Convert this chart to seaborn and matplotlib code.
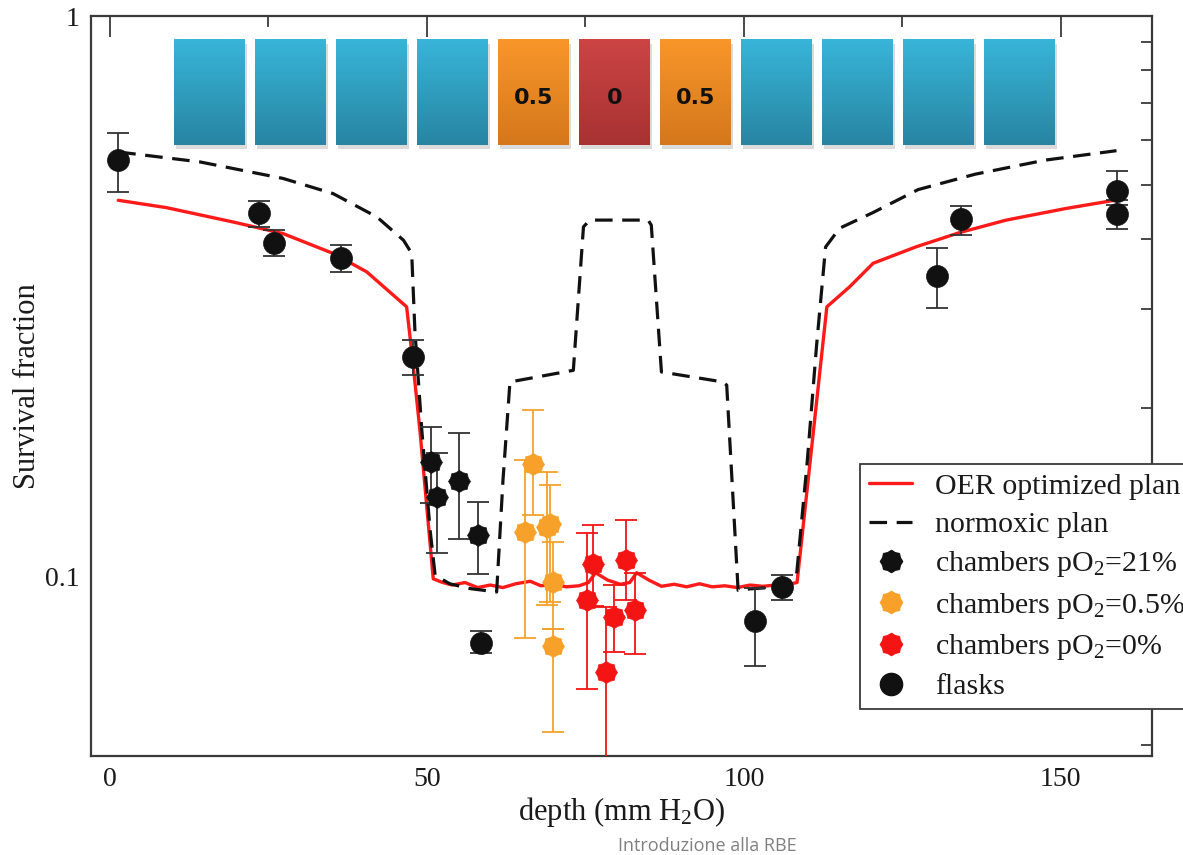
import numpy as np
import matplotlib
matplotlib.use("Agg")
import matplotlib.pyplot as plt
import seaborn as sns
from matplotlib.path import Path
from matplotlib.lines import Line2D
from matplotlib.ticker import FixedLocator, NullFormatter, LogLocator, MultipleLocator, FuncFormatter
from matplotlib.colors import to_rgb

# ---------------- data ----------------
oer_depth = [1.3, 8.9, 19.4, 27.3, 35.2, 40.5, 46.8, 47.8, 48.9, 51.0, 52.5, 54, 56, 58, 60, 62, 64,
             66.3, 68, 70, 72, 74, 75.5, 76.6, 78.5, 80.5, 82.0, 83.1, 85, 87, 89, 91, 93, 95, 97, 99,
             101, 103, 105, 107, 108.4, 113.1, 116.7, 120.4, 127.2, 134.0, 141.4, 150.9, 158.5]
oer_sf = [0.469, 0.455, 0.429, 0.409, 0.377, 0.3495, 0.3027, 0.240, 0.182, 0.0990, 0.0975, 0.0965,
          0.0975, 0.0955, 0.0965, 0.0955, 0.0970, 0.0980, 0.0962, 0.0968, 0.0958, 0.0962, 0.0975,
          0.1015, 0.0985, 0.0968, 0.0975, 0.1015, 0.0985, 0.0960, 0.0968, 0.0958, 0.0970, 0.0958,
          0.0962, 0.0955, 0.0965, 0.0960, 0.0965, 0.0968, 0.0975, 0.3027, 0.3287, 0.362, 0.3874,
          0.4105, 0.4323, 0.4536, 0.469]

norm_depth = [1.3, 14.2, 27.3, 35.2, 42.1, 46.3, 47.6, 48.1, 49.2, 50.5, 51.3, 53.6, 56.8, 61.0,
              62.0, 63.1, 73.1, 74.7, 75.7, 84.9, 85.4, 87.0, 96.7, 97.3, 99.1, 101.0, 104.0, 107.0,
              108.3, 110.0, 111.5, 112.9, 115.1, 120.4, 127.5, 136.5, 147.5, 158.8]
norm_sf = [0.572, 0.549, 0.513, 0.482, 0.438, 0.398, 0.377, 0.275, 0.182, 0.121, 0.1004, 0.0970,
           0.0951, 0.0938, 0.1484, 0.2223, 0.2332, 0.4205, 0.4323, 0.4323, 0.4235, 0.2316, 0.2223,
           0.2194, 0.0944, 0.0950, 0.0955, 0.0975, 0.1000, 0.16, 0.26, 0.387, 0.418, 0.446, 0.490,
           0.522, 0.553, 0.575]

flask_depth = [1.3, 23.5, 25.9, 36.4, 47.8, 58.5, 101.7, 106.0, 130.4, 134.2, 158.8, 158.8]
flask_sf = [0.553, 0.445, 0.393, 0.370, 0.246, 0.0762, 0.0831, 0.0956, 0.343, 0.434, 0.487, 0.443]
flask_hi = [0.618, 0.467, 0.415, 0.390, 0.264, 0.080, 0.0952, 0.1004, 0.385, 0.458, 0.529, 0.47]
flask_lo = [0.485, 0.420, 0.373, 0.349, 0.229, 0.0729, 0.0693, 0.0906, 0.301, 0.406, 0.46, 0.417]

ch21_depth = [50.6, 51.6, 55.0, 58.0]
ch21_sf = [0.160, 0.1384, 0.148, 0.1184]
ch21_hi = [0.1845, 0.166, 0.180, 0.1356]
ch21_lo = [0.135, 0.110, 0.1164, 0.1008]

ch05_depth = [66.8, 65.5, 68.9, 69.4, 69.9, 69.9]
ch05_sf = [0.159, 0.120, 0.1225, 0.124, 0.0977, 0.0751]
ch05_hi = [0.198, 0.161, 0.1536, 0.1454, 0.1152, 0.0807]
ch05_lo = [0.1285, 0.0775, 0.0888, 0.090, 0.0807, 0.0527]

ch0_depth = [76.2, 75.3, 81.4, 79.5, 82.8, 78.2]
ch0_sf = [0.1054, 0.0909, 0.1069, 0.0846, 0.0870, 0.0675]
ch0_hi = [0.1234, 0.1195, 0.1259, 0.0964, 0.1012, 0.0881]
ch0_lo = [0.0884, 0.0630, 0.0906, 0.0732, 0.0728, 0.045]

chamber_po2 = [21, 21, 21, 21, 0.5, 0, 0.5, 21, 21, 21, 21]
chamber_labels = ["", "", "", "", "0.5", "0", "0.5", "", "", "", ""]

legend_labels = ["OER optimized plan", "normoxic plan", "chambers pO$_2$=21%",
                 "chambers pO$_2$=0.5%", "chambers pO$_2$=0%", "flasks"]

# ---------------- style ----------------
sns.set_theme(style="white")
plt.rcParams["font.family"] = ["Liberation Serif", "DejaVu Serif"]
plt.rcParams["mathtext.fontset"] = "custom"
plt.rcParams["mathtext.rm"] = "Liberation Serif"
plt.rcParams["mathtext.it"] = "Liberation Serif:italic"
plt.rcParams["mathtext.bf"] = "Liberation Serif:bold"

RED = "#ff1a1a"
ORANGE = "#f7a12a"
PRED = "#f41414"
BLACK = "#111111"
SPINE = "#3a3a3a"

cog = Path.unit_regular_star(8, innerCircle=0.86)

W, H = 1183, 855
fig = plt.figure(figsize=(W / 100, H / 100), dpi=100)
ax = fig.add_axes([91 / W, 1 - 756 / H, (1152 - 91) / W, (756 - 16) / H])

# curves
sns.lineplot(x=oer_depth, y=oer_sf, ax=ax, color=RED, lw=2.4, sort=False,
             estimator=None, legend=False, zorder=2)
sns.lineplot(x=norm_depth, y=norm_sf, ax=ax, color=BLACK, lw=2.3, sort=False,
             estimator=None, legend=False, zorder=2)
ax.lines[-1].set_linestyle((0, (5.5, 3.0)))


def points(xs, ys, hi, lo, color, marker, size, ecolor):
    ys_a = np.array(ys)
    yerr = [ys_a - np.array(lo), np.array(hi) - ys_a]
    ax.errorbar(xs, ys, yerr=yerr, fmt="none", ecolor=ecolor, elinewidth=1.3,
                capsize=8, capthick=1.3, zorder=3)
    sns.scatterplot(x=xs, y=ys, ax=ax, marker=marker, s=size, color=color,
                    edgecolor=color, linewidth=0.5, zorder=4, legend=False)


points(ch21_depth, ch21_sf, ch21_hi, ch21_lo, BLACK, cog, 250, "#333333")
points(ch05_depth, ch05_sf, ch05_hi, ch05_lo, ORANGE, cog, 250, ORANGE)
points(ch0_depth, ch0_sf, ch0_hi, ch0_lo, PRED, cog, 250, PRED)
points(flask_depth, flask_sf, flask_hi, flask_lo, BLACK, "o", 250, "#333333")

# axes
ax.set_yscale("log")
ax.set_xlim(-3.0, 164.4)
ax.set_ylim(0.0478, 1.0)
ax.xaxis.set_major_locator(MultipleLocator(50))
ax.xaxis.set_minor_locator(MultipleLocator(25))
ax.yaxis.set_major_locator(FixedLocator([0.1, 1.0]))
ax.yaxis.set_major_formatter(FuncFormatter(lambda v, p: "%g" % v))
ax.yaxis.set_minor_locator(LogLocator(base=10, subs=np.arange(2, 10)))
ax.yaxis.set_minor_formatter(NullFormatter())
ax.tick_params(which="major", direction="in", length=15, width=1.3, top=True, right=True,
               color=SPINE, labelsize=20, labelcolor="#1a1a1a", pad=8)
ax.tick_params(which="minor", direction="in", length=8, width=1.3, top=True, right=True,
               color=SPINE)
for s in ax.spines.values():
    s.set_color(SPINE)
    s.set_linewidth(1.6)
ax.set_xlabel("depth (mm H$_2$O)", fontsize=22, color="#1a1a1a", labelpad=2)
ax.set_ylabel("Survival fraction", fontsize=22, color="#1a1a1a")
ax.yaxis.label.set_va("center")
ax.yaxis.set_label_coords((28 - 91) / (1152 - 91), 0.5)

# legend
handles = [
    Line2D([], [], color=RED, lw=2.4),
    Line2D([], [], color=BLACK, lw=2.3, ls=(0, (5.5, 3.0))),
    Line2D([], [], ls="none", marker=cog, ms=16, mfc=BLACK, mec=BLACK),
    Line2D([], [], ls="none", marker=cog, ms=16, mfc=ORANGE, mec=ORANGE),
    Line2D([], [], ls="none", marker=cog, ms=16, mfc=PRED, mec=PRED),
    Line2D([], [], ls="none", marker="o", ms=16, mfc=BLACK, mec=BLACK),
]
leg = ax.legend(handles, legend_labels, loc="upper left",
                bbox_to_anchor=(860 / W, 1 - 464 / H), bbox_transform=fig.transFigure,
                fontsize=21.5, frameon=True, fancybox=False, edgecolor=SPINE, framealpha=1,
                borderpad=0.3, labelspacing=0.38, handlelength=1.45, handletextpad=0.75,
                borderaxespad=0)
leg.get_frame().set_linewidth(1.3)
for t in leg.get_texts():
    t.set_color("#1a1a1a")

# chamber strip (schematic at the top)
bax = fig.add_axes(ax.get_position(), zorder=ax.get_zorder() + 1)
bax.patch.set_alpha(0)
bax.axis("off")
box_colors = {21: ("#38b5d9", "#2885a2"), 0.5: ("#f8962a", "#d5781c"), 0: ("#cc4444", "#a83232")}
x_start, pitch, width = 10.09, 12.78, 11.2
y_bot, y_top = 0.8257, 0.9676
for i, (po2, lab) in enumerate(zip(chamber_po2, chamber_labels)):
    c_top, c_bot = (np.array(to_rgb(c)) for c in box_colors[po2])
    t = np.linspace(0, 1, 64)[:, None]
    grad = (c_top[None, :] * (1 - t) + c_bot[None, :] * t)[:, None, :]
    x0 = x_start + i * pitch
    bax.add_patch(plt.Rectangle((x0 + 0.35, y_bot - 0.006), width, y_top - y_bot,
                                color="#9a9a9a", alpha=0.35, lw=0, zorder=1))
    bax.imshow(grad, extent=[x0, x0 + width, y_bot, y_top], aspect="auto", zorder=2,
               interpolation="bilinear")
    if lab:
        bax.text(x0 + width / 2, 0.889, lab, ha="center", va="center", fontsize=16,
                 fontweight="bold", family="DejaVu Sans", color="#111111", zorder=3)
bax.set_xlim(ax.get_xlim())
bax.set_ylim(0, 1)

fig.text(707 / W, 1 - 846 / H, "Introduzione alla RBE", ha="center", va="center",
         fontsize=13, color="#808080", family="Open Sans")

fig.savefig("out.png", dpi=100)
